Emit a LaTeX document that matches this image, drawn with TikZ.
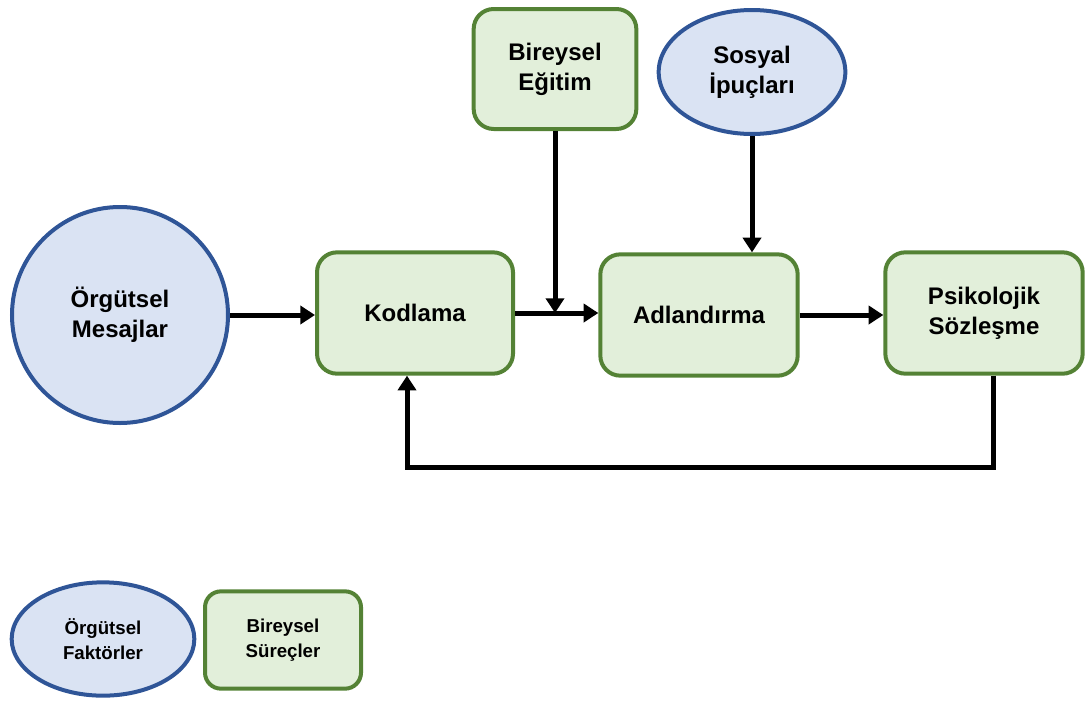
\documentclass[tikz,border=0pt]{standalone}
\usepackage{fontspec}
\setmainfont{Liberation Sans}
\usetikzlibrary{arrows.meta,shapes.geometric}
\definecolor{procfill}{HTML}{E2EFDA}
\definecolor{procline}{HTML}{548235}
\definecolor{orgfill}{HTML}{DAE3F3}
\definecolor{orgline}{HTML}{2F5597}
\tikzset{
  procbox/.style={rectangle, rounded corners=15pt, draw=procline, fill=procfill,
    line width=3pt, align=center, font=\bfseries\fontsize{18}{22.5}\selectfont},
  orgshape/.style={ellipse, draw=orgline, fill=orgfill, line width=3pt,
    align=center, inner sep=0pt, font=\bfseries\fontsize{18}{22.5}\selectfont},
  legendfont/.style={font=\bfseries\fontsize{14}{18.75}\selectfont},
  flow/.style={line width=3.75pt, -{Triangle[length=11pt,width=13.5pt]}}
}
\begin{document}
\begin{tikzpicture}[x=0.75pt,y=-0.75pt]
\useasboundingbox (0,0) rectangle (1087,700);
% main nodes
\node[orgshape, minimum width=162pt, minimum height=162pt] (msg) at (120,315) {Örgütsel\\Mesajlar};
\node[procbox, minimum width=147pt, minimum height=91pt] (kod) at (415,313) {Kodlama};
\node[procbox, minimum width=148pt, minimum height=91pt] (adl) at (699,315) {Adlandırma};
\node[procbox, minimum width=148pt, minimum height=91pt] (psk) at (984,313) {Psikolojik\\Sözleşme};
\node[procbox, minimum width=122pt, minimum height=90pt] (egt) at (555,69) {Bireysel\\Eğitim};
\node[orgshape, minimum width=140pt, minimum height=93pt] (sos) at (752,72) {Sosyal\\İpuçları};
% legend
\node[orgshape, legendfont, minimum width=137pt, minimum height=85pt] (lgo) at (103,639) {Örgütsel\\Faktörler};
\node[procbox, legendfont, rounded corners=12pt, minimum width=117pt, minimum height=73pt] (lgp) at (283,640) {Bireysel\\Süreçler};
% connectors
\draw[flow] (msg.east) -- (kod.west |- msg.east);
\draw[flow] (kod.east) -- (adl.west |- kod.east);
\draw[flow] (egt.south) -- (egt.south |- kod.east);
\draw[flow] (sos.south) -- (sos.south |- adl.north);
\draw[flow] (adl.east) -- (psk.west |- adl.east);
\coordinate (fbstart) at ([xshift=6.75pt]psk.south);
\coordinate (fbend) at ([xshift=-6pt]kod.south);
\draw[flow] (fbstart) -- ++(0,92) -| (fbend);
\end{tikzpicture}
\end{document}
